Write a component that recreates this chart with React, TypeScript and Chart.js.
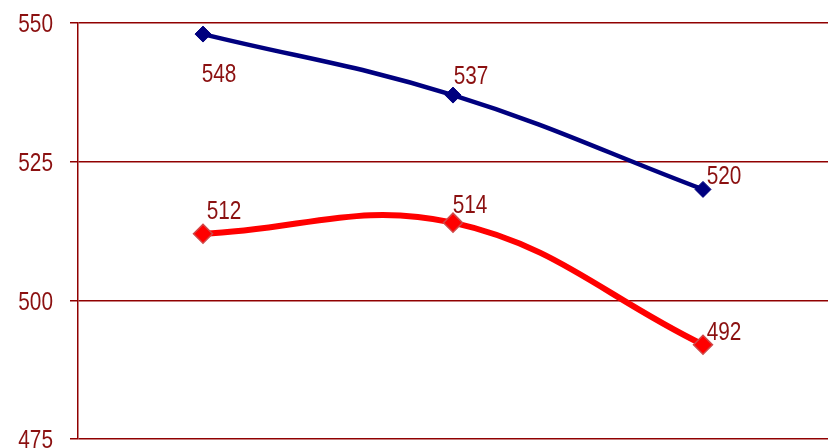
import React, { useEffect, useRef } from "react";
import { Chart, registerables } from "chart.js";

Chart.register(...registerables);

const categories = ["A", "B", "C"];
const blueValues = [548, 537, 520];
const redValues = [512, 514, 492];
const yTicks = [475, 500, 525, 550];
// label placement offsets (dx, dy) relative to each point
const blueLabelOffsets = [[16, 41], [18, -18], [21, -13]];
const redLabelOffsets = [[21, -22], [17, -17], [21, -12]];

const FONT = "'Liberation Sans', Arial, sans-serif";
const FONT_SIZE = 26;
const SQUEEZE = 0.8;
const DARK_RED = "#8b1010";
const GRID = "#900000";

function narrowText(ctx: CanvasRenderingContext2D, text: string, x: number, y: number, align: CanvasTextAlign) {
  ctx.save();
  ctx.translate(x, y);
  ctx.scale(SQUEEZE, 1);
  ctx.textAlign = align;
  ctx.fillText(text, 0, 0);
  ctx.restore();
}

const labelPlugin = {
  id: "pointLabels",
  afterDatasetsDraw(chart: any) {
    const ctx = chart.ctx;
    ctx.save();
    ctx.font = `${FONT_SIZE}px ${FONT}`;
    ctx.fillStyle = DARK_RED;
    ctx.textBaseline = "middle";
    // y tick labels
    const yScale = chart.scales.y;
    yTicks.forEach((v) => {
      narrowText(ctx, String(v), yScale.right - 8 - 17, yScale.getPixelForValue(v) + 2, "right");
    });
    const offsets = [blueLabelOffsets, redLabelOffsets];
    chart.data.datasets.forEach((ds: any, i: number) => {
      const meta = chart.getDatasetMeta(i);
      meta.data.forEach((pt: any, j: number) => {
        const [dx, dy] = offsets[i][j];
        narrowText(ctx, String(ds.data[j]), pt.x + dx, pt.y + dy, "center");
      });
    });
    ctx.restore();
  },
};

export default function App() {
  const ref = useRef<HTMLCanvasElement>(null);
  useEffect(() => {
    const chart = new Chart(ref.current!, {
      type: "line",
      data: {
        labels: categories,
        datasets: [
          {
            data: blueValues,
            borderColor: "#00007f",
            backgroundColor: "#00007f",
            borderWidth: 4.5,
            pointStyle: "rectRot",
            pointRadius: 8,
            pointBorderColor: "#00007f",
            pointBackgroundColor: "#00007f",
            pointBorderWidth: 1,
            tension: 0.4,
          },
          {
            data: redValues,
            borderColor: "#ff0000",
            backgroundColor: "#ff0000",
            borderWidth: 6,
            pointStyle: "rectRot",
            pointRadius: 9.5,
            pointBorderColor: "#d04848",
            pointBackgroundColor: "#ff0000",
            pointBorderWidth: 1.5,
            tension: 0.4,
          },
        ],
      },
      options: {
        animation: false,
        responsive: false,
        layout: { autoPadding: false, padding: { top: 23, bottom: 9, left: 0, right: 0 } },
        plugins: { legend: { display: false }, tooltip: { enabled: false } },
        scales: {
          x: {
            display: false,
            offset: true,
            grid: { display: false },
          },
          y: {
            min: 475,
            max: 550,
            afterBuildTicks: (axis: any) => {
              axis.ticks = yTicks.map((v) => ({ value: v }));
            },
            afterFit: (axis: any) => {
              axis.width = 78;
            },
            ticks: { display: false },
            grid: {
              color: GRID,
              lineWidth: 1.5,
              tickLength: 8,
              drawTicks: true,
            },
            border: { display: true, color: GRID, width: 1.5 },
          },
        },
      },
      plugins: [labelPlugin],
    });
    return () => chart.destroy();
  }, []);
  return (
    <div style={{ position: "fixed", left: 0, top: 0, width: 828, height: 448, background: "#fff" }}>
      <canvas ref={ref} width={828} height={448} style={{ display: "block" }} />
    </div>
  );
}
